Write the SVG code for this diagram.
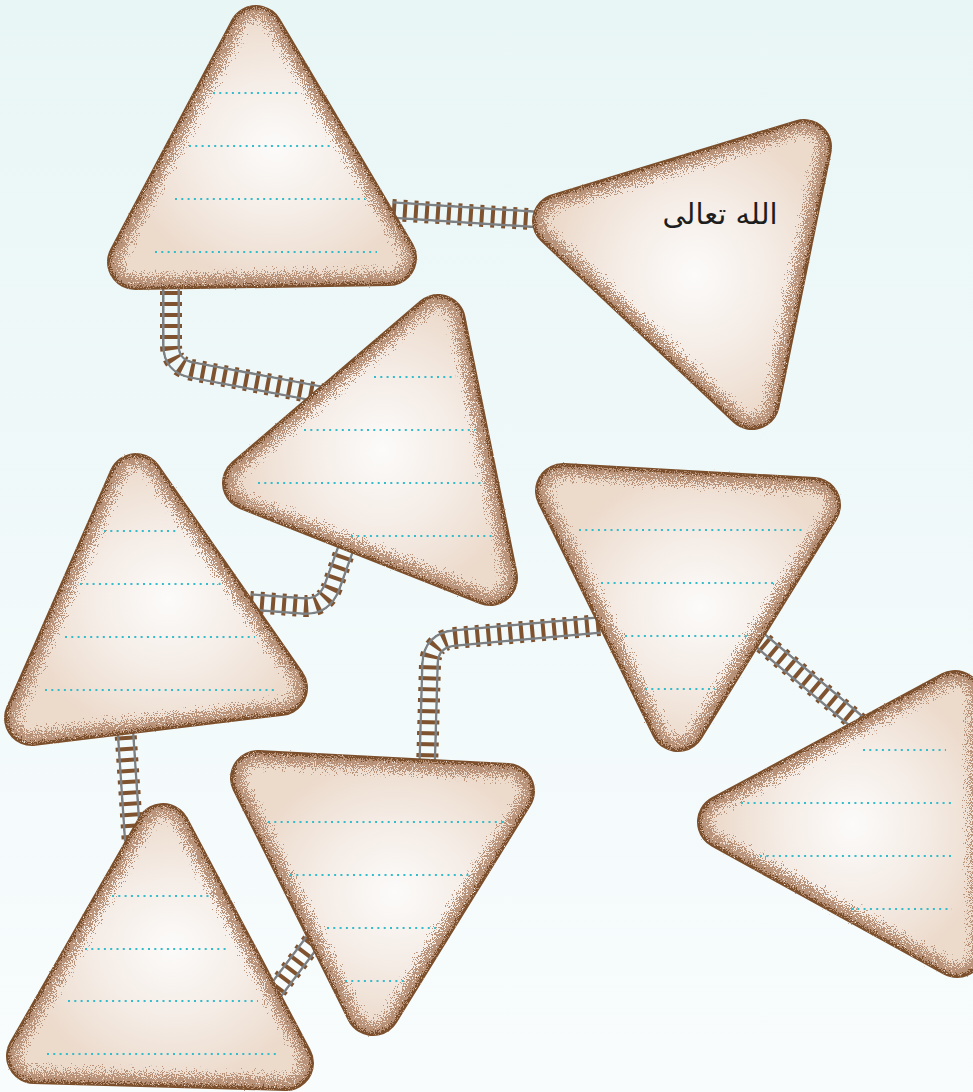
<svg xmlns="http://www.w3.org/2000/svg" width="973" height="1092" viewBox="0 0 973 1092">
<defs>
<style>
.rim{fill:#7b4f2c;stroke:#7b4f2c;stroke-width:56;stroke-linejoin:round}
.mid{fill:#b8937a;stroke:#b8937a;stroke-width:49;stroke-linejoin:round}
.core{fill:url(#cream);stroke:url(#cream);stroke-width:30;stroke-linejoin:round}
.in{fill:url(#cream);stroke:url(#cream);stroke-width:12;stroke-linejoin:round}
.dl{fill:none;stroke:#35bccb;stroke-width:2;stroke-dasharray:2 4.3}
.tie{fill:none;stroke:#7f5330;stroke-width:22;stroke-dasharray:4 7}
.rail{fill:none;stroke:#7d8083;stroke-width:18}
.mw{fill:none;stroke:#fff;stroke-width:18}
.mb{fill:none;stroke:#000;stroke-width:13}
</style>
<linearGradient id="bg" x1="0" y1="0" x2="0" y2="1">
<stop offset="0" stop-color="#e9f6f6"/>
<stop offset="1" stop-color="#f8fcfd"/>
</linearGradient>
<radialGradient id="cream" cx="0.55" cy="0.5" r="0.6">
<stop offset="0" stop-color="#fcfbfa"/>
<stop offset="0.55" stop-color="#f4ebe4"/>
<stop offset="1" stop-color="#ecdacb"/>
</radialGradient>
<filter id="g1" filterUnits="userSpaceOnUse" x="0" y="0" width="973" height="1092">
<feTurbulence type="fractalNoise" baseFrequency="0.85" numOctaves="2" seed="4" result="n"/>
<feDisplacementMap in="SourceGraphic" in2="n" scale="14" xChannelSelector="R" yChannelSelector="G"/>
</filter>
<filter id="g2" filterUnits="userSpaceOnUse" x="0" y="0" width="973" height="1092">
<feTurbulence type="fractalNoise" baseFrequency="0.9" numOctaves="2" seed="9" result="n"/>
<feDisplacementMap in="SourceGraphic" in2="n" scale="38" xChannelSelector="R" yChannelSelector="G"/>
</filter>
<path id="tA" d="M392 210 L545 220"/>
<path id="tB" d="M171 280 L171 345 Q171 366 192 370 L325 395"/>
<path id="tC" d="M347 545 L332 587 Q324 607 304 606 L250 602"/>
<path id="tD" d="M600 625 L455 638 Q431 640 430 664 L427 770"/>
<path id="tE" d="M755 636 L862 726"/>
<path id="tF" d="M125 725 L133 845"/>
<path id="tG" d="M270 998 L316 937"/>
<mask id="rm" maskUnits="userSpaceOnUse" x="0" y="0" width="973" height="1092">
<use href="#tA" class="mw"/><use href="#tB" class="mw"/><use href="#tC" class="mw"/><use href="#tD" class="mw"/><use href="#tE" class="mw"/><use href="#tF" class="mw"/><use href="#tG" class="mw"/>
<use href="#tA" class="mb"/><use href="#tB" class="mb"/><use href="#tC" class="mb"/><use href="#tD" class="mb"/><use href="#tE" class="mb"/><use href="#tF" class="mb"/><use href="#tG" class="mb"/>
</mask>
</defs>
<rect width="973" height="1092" fill="url(#bg)"/>
<g id="connectors">
<g id="ties">
<use href="#tA" class="tie"/><use href="#tB" class="tie"/><use href="#tC" class="tie"/><use href="#tD" class="tie"/><use href="#tE" class="tie"/><use href="#tF" class="tie"/><use href="#tG" class="tie"/>
</g>
<g id="rails" mask="url(#rm)">
<use href="#tA" class="rail"/><use href="#tB" class="rail"/><use href="#tC" class="rail"/><use href="#tD" class="rail"/><use href="#tE" class="rail"/><use href="#tF" class="rail"/><use href="#tG" class="rail"/>
</g>
</g>
<g id="node1">
<polygon class="rim" points="256,33 135,262 389,258"/>
<polygon class="mid" filter="url(#g1)" points="256,33 135,262 389,258"/>
<polygon class="core" filter="url(#g2)" points="256,33 135,262 389,258"/>
<polygon class="in" points="256,33 135,262 389,258"/>
<path class="dl" d="M213 93H297M189 146H332M175 199H365M155 252H377"/>
</g>
<g id="node2">
<polygon class="rim" points="560,221 804,147 752,402"/>
<polygon class="mid" filter="url(#g1)" points="560,221 804,147 752,402"/>
<polygon class="core" filter="url(#g2)" points="560,221 804,147 752,402"/>
<polygon class="in" points="560,221 804,147 752,402"/>
<text x="720" y="224" font-family="'DejaVu Sans', sans-serif" font-size="29" text-anchor="middle" fill="#1e1e1e">الله تعالی</text>
</g>
<g id="node3">
<polygon class="rim" points="250,483 438,322 490,578"/>
<polygon class="mid" filter="url(#g1)" points="250,483 438,322 490,578"/>
<polygon class="core" filter="url(#g2)" points="250,483 438,322 490,578"/>
<polygon class="in" points="250,483 438,322 490,578"/>
<path class="dl" d="M374 377H456M304 430H475M258 483H485M351 536H493"/>
</g>
<g id="node4">
<polygon class="rim" points="136,481 32,718 280,688"/>
<polygon class="mid" filter="url(#g1)" points="136,481 32,718 280,688"/>
<polygon class="core" filter="url(#g2)" points="136,481 32,718 280,688"/>
<polygon class="in" points="136,481 32,718 280,688"/>
<path class="dl" d="M104 531H179M80 584H222M65 637H255M45 690H275"/>
</g>
<g id="node5">
<polygon class="rim" points="563,491 813,505 678,724"/>
<polygon class="mid" filter="url(#g1)" points="563,491 813,505 678,724"/>
<polygon class="core" filter="url(#g2)" points="563,491 813,505 678,724"/>
<polygon class="in" points="563,491 813,505 678,724"/>
<path class="dl" d="M579 530H803M601 583H778M625 636H752M645 689H715"/>
</g>
<g id="node6">
<polygon class="rim" points="725,822 955,698 957,950"/>
<polygon class="mid" filter="url(#g1)" points="725,822 955,698 957,950"/>
<polygon class="core" filter="url(#g2)" points="725,822 955,698 957,950"/>
<polygon class="in" points="725,822 955,698 957,950"/>
<path class="dl" d="M863 750H946M741 803H952M760 856H952M851 909H952"/>
</g>
<g id="node7">
<polygon class="rim" points="258,778 507,791 373,1008"/>
<polygon class="mid" filter="url(#g1)" points="258,778 507,791 373,1008"/>
<polygon class="core" filter="url(#g2)" points="258,778 507,791 373,1008"/>
<polygon class="in" points="258,778 507,791 373,1008"/>
<path class="dl" d="M268 822H503M290 875H470M327 928H440M345 981H404"/>
</g>
<g id="node8">
<polygon class="rim" points="163,831 34,1056 286,1063"/>
<polygon class="mid" filter="url(#g1)" points="163,831 34,1056 286,1063"/>
<polygon class="core" filter="url(#g2)" points="163,831 34,1056 286,1063"/>
<polygon class="in" points="163,831 34,1056 286,1063"/>
<path class="dl" d="M112 896H211M85 949H227M68 1001H258M47 1054H276"/>
</g>
</svg>
